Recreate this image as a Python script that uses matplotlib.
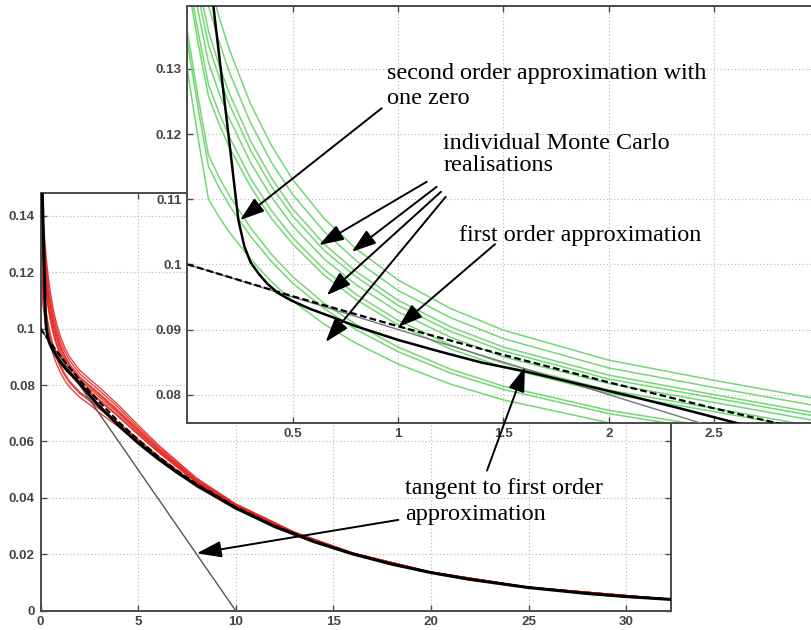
import matplotlib
matplotlib.use("Agg")
import matplotlib.pyplot as plt

# ---------------- data ----------------
# Monte Carlo realisations (same data: red in main plot, green in inset)
mc_x = [0, 0.05, 0.1, 0.15, 0.2, 0.3, 0.4, 0.5, 0.65, 0.8, 1.0, 1.25, 1.5, 2.0, 2.5, 3.0,
        4, 5, 6, 8, 10, 13, 16, 20, 25, 32.3]
mc_1 = [0.1593, 0.1509, 0.1439, 0.1380, 0.1329, 0.1246, 0.1182, 0.1130, 0.1070, 0.1024, 0.0976, 0.0932, 0.0899, 0.0853, 0.0822,
        0.0793, 0.0728, 0.0658, 0.0590, 0.0470, 0.0379, 0.0279, 0.0205, 0.0137, 0.0083, 0.0040]
mc_2 = [0.1556, 0.1470, 0.1397, 0.1342, 0.1294, 0.1217, 0.1156, 0.1107, 0.1050, 0.1006, 0.0960, 0.0918, 0.0886, 0.0841, 0.0811,
        0.0782, 0.0719, 0.0650, 0.0584, 0.0466, 0.0377, 0.0278, 0.0204, 0.0137, 0.0083, 0.0040]
mc_3 = [0.1522, 0.1434, 0.1358, 0.1306, 0.1262, 0.1189, 0.1132, 0.1085, 0.1031, 0.0989, 0.0945, 0.0904, 0.0873, 0.0830, 0.0800,
        0.0771, 0.0709, 0.0643, 0.0578, 0.0462, 0.0375, 0.0277, 0.0204, 0.0137, 0.0083, 0.0040]
mc_4 = [0.1505, 0.1415, 0.1337, 0.1288, 0.1245, 0.1175, 0.1119, 0.1074, 0.1021, 0.0981, 0.0937, 0.0897, 0.0867, 0.0824, 0.0795,
        0.0766, 0.0705, 0.0639, 0.0575, 0.0461, 0.0374, 0.0276, 0.0204, 0.0136, 0.0083, 0.0040]
mc_5 = [0.1481, 0.1390, 0.1310, 0.1263, 0.1223, 0.1156, 0.1103, 0.1059, 0.1008, 0.0969, 0.0927, 0.0888, 0.0858, 0.0817, 0.0788,
        0.0759, 0.0699, 0.0634, 0.0571, 0.0458, 0.0372, 0.0276, 0.0203, 0.0136, 0.0083, 0.0040]
mc_6 = [0.1451, 0.1358, 0.1276, 0.1233, 0.1195, 0.1132, 0.1082, 0.1041, 0.0992, 0.0954, 0.0914, 0.0876, 0.0848, 0.0807, 0.0779,
        0.0750, 0.0691, 0.0628, 0.0566, 0.0455, 0.0370, 0.0275, 0.0203, 0.0136, 0.0083, 0.0040]
mc_7 = [0.1435, 0.1341, 0.1258, 0.1216, 0.1179, 0.1119, 0.1070, 0.1031, 0.0983, 0.0946, 0.0907, 0.0870, 0.0842, 0.0802, 0.0774,
        0.0745, 0.0687, 0.0624, 0.0564, 0.0453, 0.0369, 0.0274, 0.0203, 0.0136, 0.0082, 0.0040]
mc_8 = [0.1357, 0.1258, 0.1168, 0.1134, 0.1105, 0.1056, 0.1015, 0.0981, 0.0940, 0.0908, 0.0873, 0.0839, 0.0813, 0.0776, 0.0750,
        0.0721, 0.0667, 0.0608, 0.0550, 0.0445, 0.0365, 0.0272, 0.0201, 0.0136, 0.0082, 0.0040]
mc_9 = [0.1341, 0.1241, 0.1150, 0.1118, 0.1090, 0.1043, 0.1004, 0.0971, 0.0932, 0.0900, 0.0866, 0.0833, 0.0808, 0.0771, 0.0745,
        0.0716, 0.0663, 0.0604, 0.0548, 0.0443, 0.0364, 0.0271, 0.0201, 0.0135, 0.0082, 0.0040]
mc_10 = [0.1298, 0.1195, 0.1100, 0.1073, 0.1049, 0.1008, 0.0973, 0.0944, 0.0908, 0.0879, 0.0847, 0.0816, 0.0792, 0.0757, 0.0732,
         0.0703, 0.0652, 0.0595, 0.0541, 0.0439, 0.0361, 0.0270, 0.0201, 0.0135, 0.0082, 0.0040]
mc_all = [mc_1, mc_2, mc_3, mc_4, mc_5, mc_6, mc_7, mc_8, mc_9, mc_10]

# second order approximation with one zero
second_x = [0.09, 0.123, 0.16, 0.20, 0.242, 0.27, 0.30, 0.34, 0.38, 0.43, 0.49, 0.58, 0.68, 0.80, 1.0,
            1.2, 1.4, 1.6, 1.85, 2.1, 2.35, 2.6, 3.0, 4, 5, 6, 7, 8, 10, 12, 14, 16, 18, 20, 22, 25, 28, 30, 32.3]
second_y = [0.1490, 0.1397, 0.1295, 0.1185, 0.1068, 0.1028, 0.1003, 0.0985, 0.0970, 0.0956, 0.0945, 0.0932, 0.0920, 0.0905, 0.0884,
            0.0866, 0.0849, 0.0836, 0.0817, 0.0798, 0.0778, 0.0757, 0.0726, 0.0657, 0.0595, 0.0540, 0.0490, 0.0445, 0.0364, 0.0298,
            0.0245, 0.0201, 0.0165, 0.0135, 0.0111, 0.0082, 0.0061, 0.0050, 0.0040]

# first order approximation (dashed)
first_x = [0, 0.5, 1, 1.5, 2, 2.5, 3, 4, 5, 6, 7, 8, 10, 12, 14, 16, 18, 20, 22, 25, 28, 30, 32.3]
first_y = [0.1, 0.0951, 0.0905, 0.0861, 0.0819, 0.0779, 0.0741, 0.0670, 0.0607, 0.0549, 0.0497, 0.0449, 0.0368,
           0.0301, 0.0247, 0.0202, 0.0165, 0.0135, 0.0111, 0.0082, 0.0061, 0.0050, 0.0040]

# tangent to first order approximation
tangent_x = [0, 10]
tangent_y = [0.1, 0]

main_xticks = [0, 5, 10, 15, 20, 25, 30]
main_yticks = [0, 0.02, 0.04, 0.06, 0.08, 0.1, 0.12, 0.14]
main_yticklabels = ["0", "0.02", "0.04", "0.06", "0.08", "0.1", "0.12", "0.14"]
ins_xticks = [0.5, 1, 1.5, 2, 2.5]
ins_xticklabels = ["0.5", "1", "1.5", "2", "2.5"]
ins_yticks = [0.08, 0.09, 0.1, 0.11, 0.12, 0.13]
ins_yticklabels = ["0.08", "0.09", "0.1", "0.11", "0.12", "0.13"]

# ---------------- figure ----------------
W, H = 811, 630
fig = plt.figure(figsize=(W / 100, H / 100), dpi=100)
fig.patch.set_facecolor("white")


def fx(px):
    return px / W


def fy(py):
    return 1 - py / H


ax = fig.add_axes([fx(40.5), fy(610.7), (671 - 40.5) / W, (610.7 - 193.3) / H])
ins = fig.add_axes([fx(187.4), fy(422.7), (819.5 - 187.4) / W, (422.7 - 5.7) / H])
ins.set_zorder(3)
ax.set_zorder(1)

tick_font = dict(family="Liberation Sans", size=9.6, weight="bold")
spine_col = "#4a4a4a"


def style(a):
    for s in a.spines.values():
        s.set_color(spine_col)
        s.set_linewidth(1.4)
    a.tick_params(direction="in", length=4, width=1.0, color=spine_col,
                  top=True, right=True, labelcolor="#454545", pad=4)
    a.grid(True, color="#b8b8b8", linestyle=(0, (1, 2.2)), linewidth=0.8)
    a.set_axisbelow(True)


# main plot
style(ax)
for c in mc_all:
    ax.plot(mc_x, c, color="#e3261f", lw=1.0, alpha=0.85, zorder=2)
ax.plot(tangent_x, tangent_y, color="#555555", lw=1.0, zorder=3)
ax.plot(first_x, first_y, color="black", lw=1.5, dashes=(3, 1.5), zorder=4)
ax.plot(second_x, second_y, color="black", lw=2.2, zorder=5)
ax.set_xlim(0, 32.3)
ax.set_ylim(0, 0.148)
ax.set_xticks(main_xticks)
ax.set_xticklabels([str(t) for t in main_xticks], fontdict=tick_font)
ax.set_yticks(main_yticks)
ax.set_yticklabels(main_yticklabels, fontdict=tick_font)

# inset
style(ins)
ins.set_facecolor("white")
for c in mc_all:
    ins.plot(mc_x, c, color="#72d872", lw=1.1, zorder=2)
ins.plot(tangent_x, tangent_y, color="#777777", lw=1.0, zorder=3)
ins.plot(first_x, first_y, color="black", lw=1.6, dashes=(3, 1.5), zorder=4)
ins.plot(second_x, second_y, color="black", lw=1.8, zorder=5)
ins.set_xlim(0, 3.0)
ins.set_ylim(0.0757, 0.1397)
ins.set_xticks(ins_xticks)
ins.set_xticklabels(ins_xticklabels, fontdict=tick_font)
ins.set_yticks(ins_yticks)
ins.set_yticklabels(ins_yticklabels, fontdict=tick_font)

# ---------------- annotations ----------------
serif = dict(family="Liberation Serif", size=17.4, color="black")
fig.text(fx(386.7), fy(79), "second order approximation with", va="baseline", **serif)
fig.text(fx(386.7), fy(104), "one zero", va="baseline", **serif)
fig.text(fx(443.3), fy(149), "individual Monte Carlo", va="baseline", **serif)
fig.text(fx(443.3), fy(171), "realisations", va="baseline", **serif)
fig.text(fx(459.3), fy(241), "first order approximation", va="baseline", **serif)
fig.text(fx(405), fy(494), "tangent to first order", va="baseline", **serif)
fig.text(fx(405), fy(520), "approximation", va="baseline", **serif)

arrow = dict(arrowstyle="-|>,head_length=1.5,head_width=0.5", mutation_scale=10,
             lw=1.4, color="black", shrinkA=0, shrinkB=0)


def ins_arrow(tail, tip):
    ins.annotate("", xy=tip, xytext=tail, xycoords="data", textcoords="data",
                 arrowprops=arrow, annotation_clip=False, zorder=10)


ins_arrow((0.922, 0.12396), (0.2497, 0.10679))
ins_arrow((1.136, 0.11268), (0.6246, 0.10295))
ins_arrow((1.183, 0.11191), (0.780, 0.10192))
ins_arrow((1.2036, 0.11114), (0.661, 0.09526))
ins_arrow((1.226, 0.11037), (0.656, 0.08808))
ins_arrow((1.46, 0.1031), (1.001, 0.09039))
ins_arrow((1.422, 0.06836), (1.602, 0.08424))

ax.annotate("", xy=(8.007, 0.02035), xytext=(18.33, 0.0322), xycoords="data",
            textcoords="data", arrowprops=arrow, annotation_clip=False, zorder=10)

fig.savefig("out.png", dpi=100, facecolor="white")
